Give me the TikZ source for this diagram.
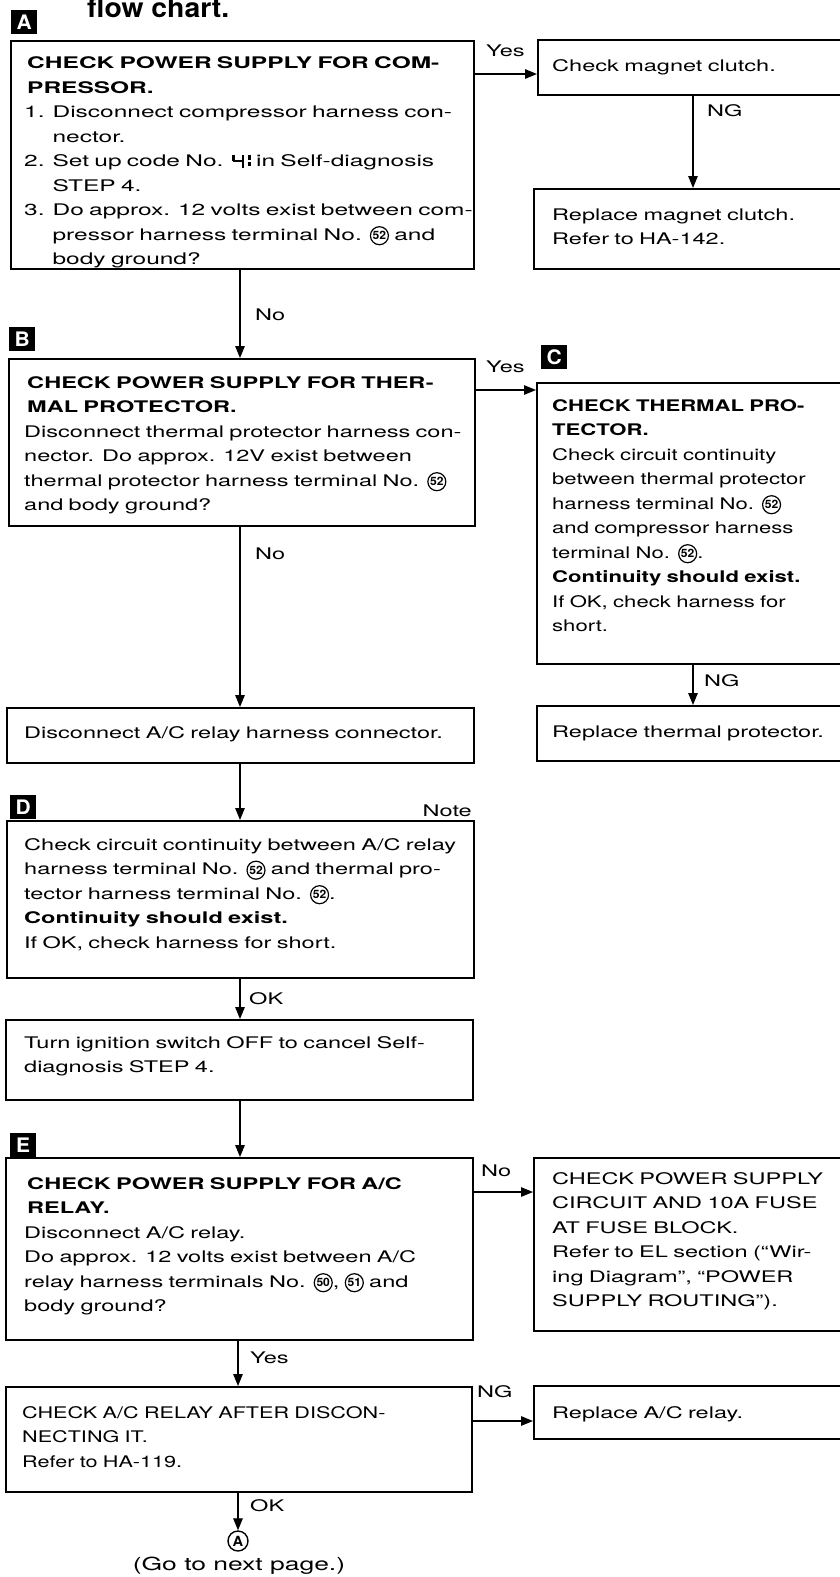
\documentclass[tikz,border=0pt]{standalone}
\usepackage{fontspec}
\setmainfont{TeX Gyre Heros}[FakeStretch=1.47]
\newfontfamily\fA{TeX Gyre Heros}[FakeStretch=1.53]
\newfontfamily\fC{TeX Gyre Heros}[FakeStretch=1.38]
\newfontfamily\fCAR{TeX Gyre Heros}[FakeStretch=1.35]
\newfontfamily\titlefont{TeX Gyre Heros}[FakeStretch=1.05]
\newfontfamily\numfont{TeX Gyre Heros}[FakeStretch=1.05]
\usetikzlibrary{arrows.meta,calc}
\newcommand{\cn}[1]{\tikz[baseline=0pt,x=1pt,y=1pt]{\draw[line width=1.2pt] (9,4.3) circle[radius=9pt]; \pgftext[at={\pgfpoint{9pt}{4.3pt}}]{\numfont\bfseries\fontsize{11.5}{11.5}\selectfont #1}}}
\newcommand{\segcode}{\tikz[baseline=0pt,x=1pt,y=1pt,line width=2.3pt]{\draw (0,11.8)--(0,5.2) (-1,5.6)--(10,5.6) (9.5,11.8)--(9.5,6.8) (9.5,4.6)--(9.5,-1.5); \draw (16,11.8)--(16,6.8) (16,4.6)--(16,0.5);}}
\newcommand{\hd}[1]{\hspace*{3pt}\textbf{#1}}
\begin{document}
\begin{tikzpicture}[x=1pt,y=-1pt,
  box/.style={draw,line width=1.6pt,rectangle,inner sep=0pt,anchor=north west},
  txt/.style={anchor=base west,inner sep=0pt,align=left,text width=470pt,font={\fontsize{16}{24.5}\selectfont}},
  rtxt/.style={txt,text width=300pt},
  lbl/.style={anchor=base west,inner sep=0pt,font={\fontsize{16}{16}\selectfont}},
  sq/.style={fill=black,text=white,font={\numfont\bfseries\fontsize{20}{20}\selectfont},minimum width=26pt,minimum height=24pt,inner sep=0pt,anchor=north west},
  arr/.style={line width=1.3pt,-{Triangle[length=12pt,width=9.5pt]}}]
\useasboundingbox (0,0) rectangle (840,1577);
\fill[white] (0,0) rectangle (840,1577);
\clip (0,0) rectangle (840,1577);

% title
\node[anchor=base west,inner sep=0pt,font={\titlefont\bfseries\fontsize{27}{27}\selectfont}] (title) at (87,17) {flow chart.};

% letter tags
\node[sq] (LA) at (11,10) {A};
\node[sq] (LB) at (9,327) {B};
\node[sq] (LC) at (541,345) {C};
\node[sq] (LD) at (10,795) {D};
\node[sq] (LE) at (10,1133) {E};

% boxes
\node[box,minimum width=463pt,minimum height=228pt] (A) at (10,40) {};
\node[box,minimum width=310pt,minimum height=55pt] (MC) at (537,39) {};
\node[box,minimum width=314pt,minimum height=80pt] (RMC) at (533,188) {};
\node[box,minimum width=466pt,minimum height=167pt] (B) at (8,358) {};
\node[box,minimum width=310pt,minimum height=281pt] (C) at (536,382) {};
\node[box,minimum width=310pt,minimum height=55pt] (RTP) at (536,705) {};
\node[box,minimum width=467pt,minimum height=55pt] (DIS) at (6,707) {};
\node[box,minimum width=467pt,minimum height=157pt] (D) at (6,820) {};
\node[box,minimum width=467pt,minimum height=80pt] (TURN) at (5,1019) {};
\node[box,minimum width=467pt,minimum height=182pt] (E) at (5,1157) {};
\node[box,minimum width=314pt,minimum height=173pt] (PS) at (533,1157) {};
\node[box,minimum width=466pt,minimum height=105pt] (CAR) at (5,1386) {};
\node[box,minimum width=314pt,minimum height=53pt] (RAR) at (533,1385) {};
\node[draw,circle,line width=1.4pt,inner sep=0pt,minimum size=20pt,font={\numfont\bfseries\fontsize{14}{14}\selectfont}] (GA) at (238,1541) {A};

% texts
\node[txt,font={\fA\fontsize{16}{24.5}\selectfont}] (tA) at (24,68.5) {\hd{CHECK POWER SUPPLY FOR COM-}\\
\hd{PRESSOR.}\\
1. Disconnect compressor harness con-\\
\phantom{1. }nector.\\
2. Set up code No. \segcode\ in Self-diagnosis\\
\phantom{2. }STEP 4.\\
3. Do approx. 12 volts exist between com-\\
\phantom{3. }pressor harness terminal No. \cn{52} and\\
\phantom{3. }body ground?};
\node[rtxt] (tMC) at (552,71.5) {Check magnet clutch.};
\node[rtxt] (tRMC) at (552,220) {Replace magnet clutch.\\Refer to HA-142.};
\node[txt] (tB) at (24,388) {\hd{CHECK POWER SUPPLY FOR THER-}\\
\hd{MAL PROTECTOR.}\\
Disconnect thermal protector harness con-\\
nector. Do approx. 12V exist between\\
thermal protector harness terminal No. \cn{52}\\
and body ground?};
\node[rtxt,font={\fC\fontsize{16}{24.5}\selectfont}] (tC) at (552,411) {\textbf{CHECK THERMAL PRO-}\\
\textbf{TECTOR.}\\
Check circuit continuity\\
between thermal protector\\
harness terminal No. \cn{52}\\
and compressor harness\\
terminal No. \cn{52}.\\
\textbf{Continuity should exist.}\\
If OK, check harness for\\
short.};
\node[rtxt] (tRTP) at (552,737) {Replace thermal protector.};
\node[txt] (tDIS) at (24,738) {Disconnect A/C relay harness connector.};
\node[txt] (tD) at (24,850) {Check circuit continuity between A/C relay\\
harness terminal No. \cn{52} and thermal pro-\\
tector harness terminal No. \cn{52}.\\
\textbf{Continuity should exist.}\\
If OK, check harness for short.};
\node[anchor=base east,inner sep=0pt,font={\fontsize{16}{16}\selectfont}] (note) at (472,816) {Note};
\node[txt] (tTURN) at (24,1048) {Turn ignition switch OFF to cancel Self-\\diagnosis STEP 4.};
\node[txt] (tE) at (24,1189) {\hd{CHECK POWER SUPPLY FOR A/C}\\
\hd{RELAY.}\\
Disconnect A/C relay.\\
Do approx. 12 volts exist between A/C\\
relay harness terminals No. \cn{50}, \cn{51} and\\
body ground?};
\node[rtxt] (tPS) at (552,1184) {CHECK POWER SUPPLY\\
CIRCUIT AND 10A FUSE\\
AT FUSE BLOCK.\\
Refer to EL section (“Wir-\\
ing Diagram”, “POWER\\
SUPPLY ROUTING”).};
\node[txt,font={\fCAR\fontsize{16}{24.5}\selectfont}] (tCAR) at (22,1418) {CHECK A/C RELAY AFTER DISCON-\\NECTING IT.\\Refer to HA-119.};
\node[rtxt] (tRAR) at (552,1418) {Replace A/C relay.};
\node[anchor=center,inner sep=0pt,font={\fontsize{18}{18}\selectfont}] (next) at (239,1566) {(Go to next page.)};

% connector helper coordinates
\coordinate (lc) at (240,0);
\coordinate (lc2) at (238,0);
\coordinate (rc) at (693,0);
\coordinate (h1) at (0,74);
\coordinate (h2) at (0,390);
\coordinate (h3) at (0,1192);
\coordinate (h4) at (0,1421);

% connectors
\draw[arr] (A.east |- h1) -- (MC.west |- h1);
\draw[arr] (MC.south -| rc) -- (RMC.north -| rc);
\draw[arr] (A.south -| lc) -- (B.north -| lc);
\draw[arr] (B.east |- h2) -- (C.west |- h2);
\draw[arr] (B.south -| lc) -- (DIS.north -| lc);
\draw[arr] (C.south -| rc) -- (RTP.north -| rc);
\draw[arr] (DIS.south -| lc) -- (D.north -| lc);
\draw[arr] (D.south -| lc) -- (TURN.north -| lc);
\draw[arr] (TURN.south -| lc) -- (E.north -| lc);
\draw[arr] (E.east |- h3) -- (PS.west |- h3);
\draw[arr] (E.south -| lc2) -- (CAR.north -| lc2);
\draw[arr] (CAR.east |- h4) -- (RAR.west |- h4);
\draw[arr] (CAR.south -| lc2) -- (GA.north);

% connector labels
\node[lbl] (l1) at (486,56) {Yes};
\node[lbl] (l2) at (707,116) {NG};
\node[lbl] (l3) at (255,320) {No};
\node[lbl] (l4) at (486,372) {Yes};
\node[lbl] (l5) at (255,559) {No};
\node[lbl] (l6) at (704,686) {NG};
\node[lbl] (l7) at (249,1004) {OK};
\node[lbl] (l8) at (481,1176) {No};
\node[lbl] (l9) at (250,1363) {Yes};
\node[lbl] (l10) at (477,1397) {NG};
\node[lbl] (l11) at (250,1511) {OK};
\end{tikzpicture}
\end{document}
